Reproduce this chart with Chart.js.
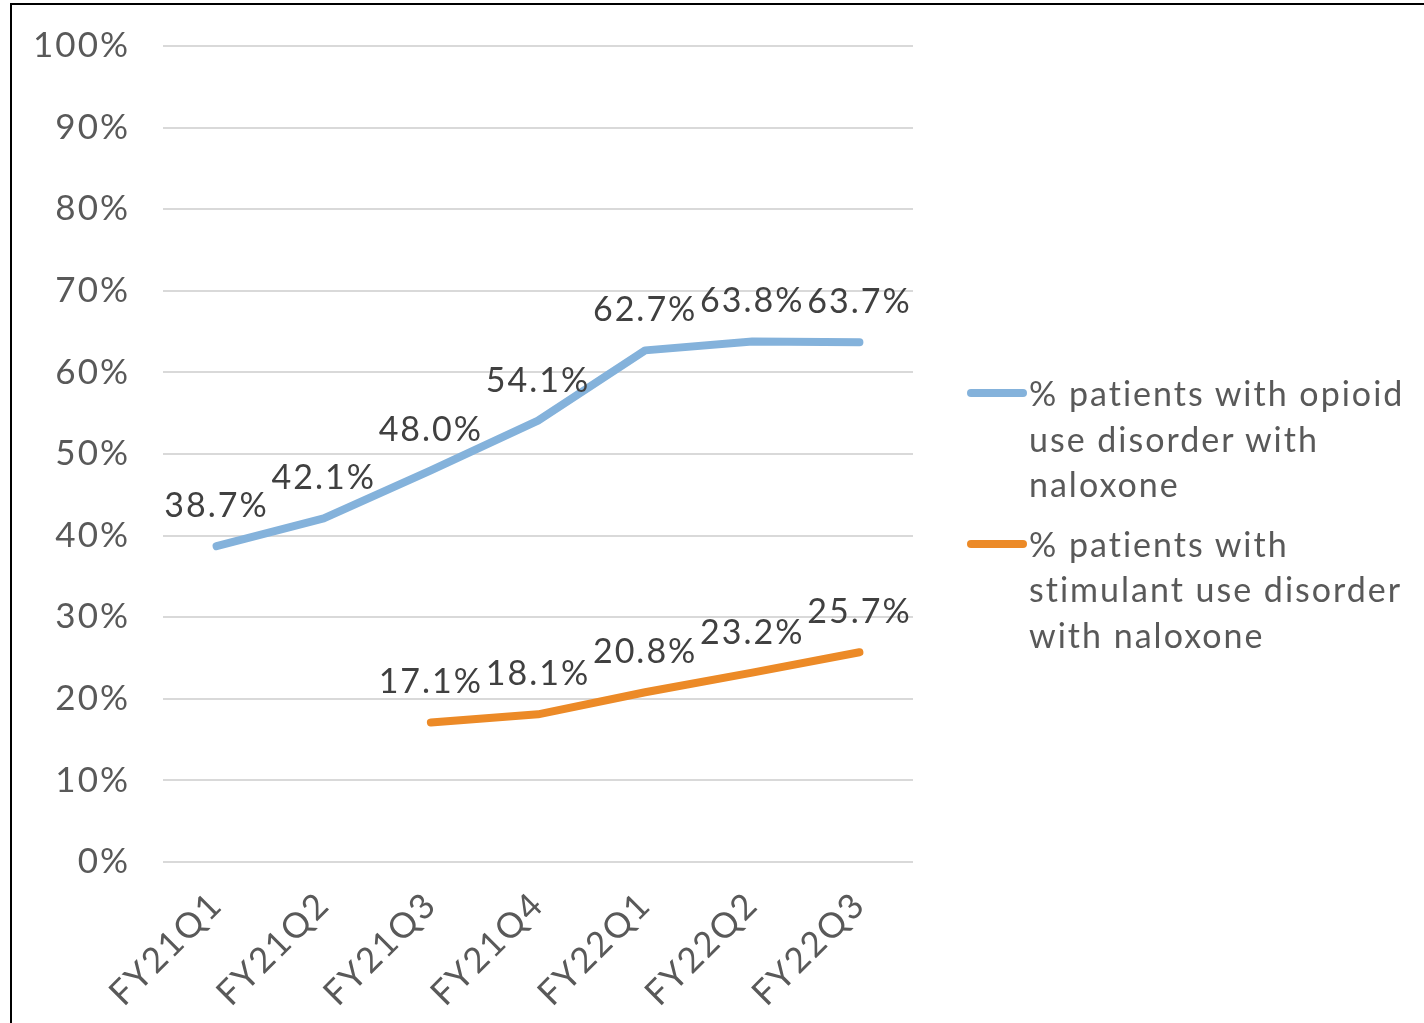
<!DOCTYPE html>
<html>
<head>
<meta charset="utf-8">
<script src="https://cdn.jsdelivr.net/npm/chart.js@4/dist/chart.umd.min.js"></script>
<style>
  html, body { margin: 0; padding: 0; background: #fff; overflow: hidden; }
  .wrap { position: relative; width: 1424px; height: 1023px; }
  .frame { position: absolute; left: 10px; top: 3px; width: 1500px; height: 1100px; border: 2.5px solid #000; box-sizing: border-box; pointer-events: none; }
  canvas { position: absolute; left: 0; top: 0; }
  .legend { position: absolute; left: 1029px; top: 370px; width: 395px; font-family: Lato, sans-serif; font-size: 34px; letter-spacing: 2px; line-height: 45.5px; color: #595959; }
  .legend-item { position: relative; margin-bottom: 14px; }
  .legend-item .swatch { position: absolute; left: -62px; top: 19px; width: 60px; height: 8px; border-radius: 4px; }
</style>
</head>
<body>
<div class="wrap">
  <canvas id="my-chart" width="1424" height="1023"></canvas>
  <div class="legend" id="legend"></div>
  <div class="frame"></div>
</div>
<script>
const quarters = ['FY21Q1','FY21Q2','FY21Q3','FY21Q4','FY22Q1','FY22Q2','FY22Q3'];
const opioid = [38.7, 42.1, 48.0, 54.1, 62.7, 63.8, 63.7];
const stimulant = [null, null, 17.1, 18.1, 20.8, 23.2, 25.7];
const seriesNames = [
    ['% patients with opioid', 'use disorder with', 'naloxone'],
    ['% patients with', 'stimulant use disorder', 'with naloxone']
];
const seriesColors = ['#84B2DB', '#EC8A27'];

// wider tracking for all canvas text
const spacing = {
    id: 'spacing',
    beforeDraw(chart) { chart.ctx.letterSpacing = '2px'; }
};

const valueLabels = {
    id: 'valueLabels',
    afterDatasetsDraw(chart) {
        const ctx = chart.ctx;
        ctx.save();
        ctx.font = '34px Lato';
        ctx.fillStyle = '#404040';
        ctx.textAlign = 'center';
        ctx.textBaseline = 'middle';
        chart.data.datasets.forEach((ds, i) => {
            const meta = chart.getDatasetMeta(i);
            meta.data.forEach((pt, j) => {
                const v = ds.data[j];
                if (v === null) return;
                ctx.fillText(v.toFixed(1) + '%', pt.x, pt.y - 40);
            });
        });
        ctx.restore();
    }
};

const canvas = document.getElementById('my-chart');
canvas.getContext('2d').letterSpacing = '2px';
const myChart = new Chart(canvas, {
    type: 'line',
    data: {
        labels: quarters,
        datasets: [
            { label: seriesNames[0].join(' '), data: opioid, borderColor: seriesColors[0], borderWidth: 8, pointRadius: 0, borderCapStyle: 'round', borderJoinStyle: 'round', tension: 0 },
            { label: seriesNames[1].join(' '), data: stimulant, borderColor: seriesColors[1], borderWidth: 8, pointRadius: 0, borderCapStyle: 'round', borderJoinStyle: 'round', tension: 0 }
        ]
    },
    options: {
        responsive: false,
        animation: false,
        layout: { padding: { left: 0, top: 46, right: 511, bottom: 0 } },
        plugins: { legend: { display: false }, tooltip: { enabled: false } },
        scales: {
            x: {
                offset: true,
                grid: { display: false, drawTicks: false },
                border: { display: false },
                ticks: {
                    minRotation: 45, maxRotation: 45, padding: 22,
                    color: '#595959', font: { family: 'Lato', size: 35 }
                },
                afterFit: (s) => { s.height = 161; s.paddingLeft = 0; s.paddingRight = 0; }
            },
            y: {
                min: 0, max: 100,
                grid: { color: '#D9D9D9', lineWidth: 2, drawTicks: false },
                border: { display: false },
                ticks: {
                    stepSize: 10, padding: 33,
                    color: '#595959', font: { family: 'Lato', size: 35 },
                    callback: (v) => v + '%'
                },
                afterFit: (s) => { s.width = 163; s.paddingTop = 0; s.paddingBottom = 0; }
            }
        }
    },
    plugins: [spacing, valueLabels]
});

const legend = document.getElementById('legend');
seriesNames.forEach((lines, i) => {
    const item = document.createElement('div');
    item.className = 'legend-item';
    const sw = document.createElement('span');
    sw.className = 'swatch';
    sw.style.background = seriesColors[i];
    item.appendChild(sw);
    lines.forEach((t, k) => {
        if (k > 0) item.appendChild(document.createElement('br'));
        item.appendChild(document.createTextNode(t));
    });
    legend.appendChild(item);
});
</script>
</body>
</html>
